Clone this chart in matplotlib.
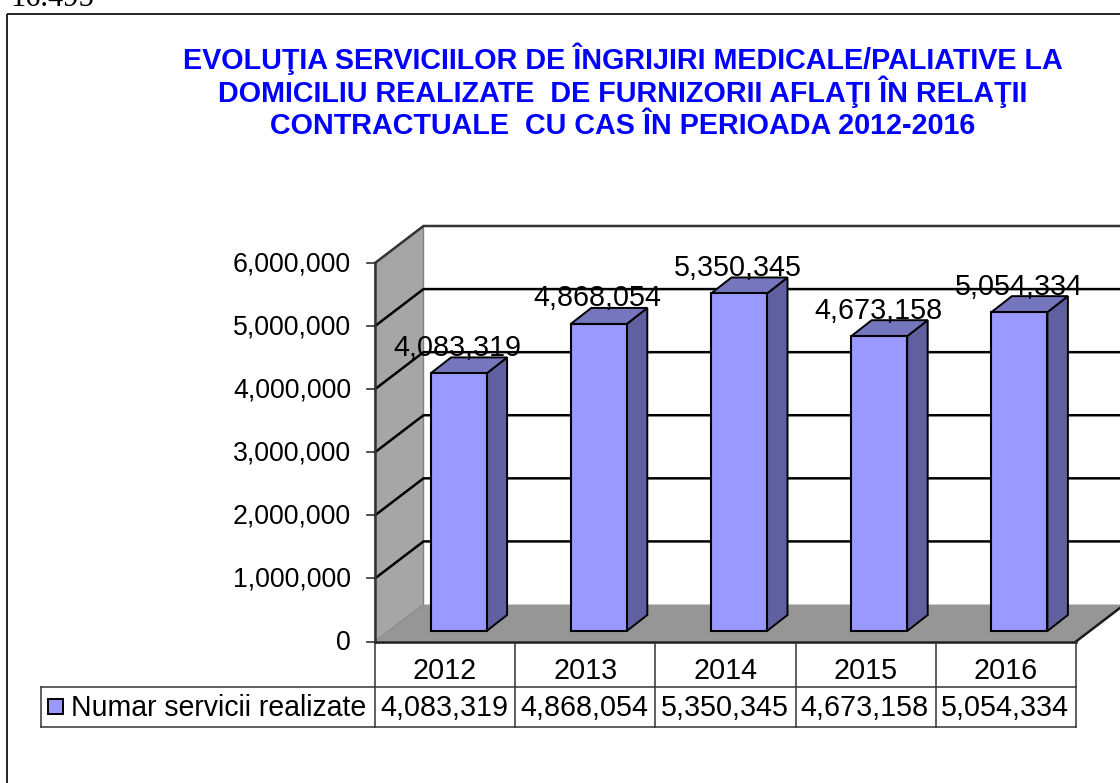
import matplotlib
matplotlib.use("Agg")
import matplotlib.pyplot as plt
from matplotlib.patches import Polygon, Rectangle
from matplotlib.transforms import Affine2D

plt.rcParams['font.family'] = ['Liberation Sans', 'DejaVu Sans']

years = ['2012', '2013', '2014', '2015', '2016']
servicii = [4083319, 4868054, 5350345, 4673158, 5054334]
y_ticks = [0, 1000000, 2000000, 3000000, 4000000, 5000000, 6000000]
serie = 'Numar servicii realizate'
titlu = ['EVOLUŢIA SERVICIILOR DE ÎNGRIJIRI MEDICALE/PALIATIVE LA',
         'DOMICILIU REALIZATE  DE FURNIZORII AFLAŢI ÎN RELAŢII',
         'CONTRACTUALE  CU CAS ÎN PERIOADA 2012-2016']

W, H = 1120, 783
fig = plt.figure(figsize=(W / 100, H / 100), dpi=100)

# page coordinates in pixels, y going down
page = Affine2D().scale(1, -1).translate(0, H)

# the front plane of the 3d box is the real axes
L, R, Y0, Y6 = 375, 1076, 641.5, 263
ax = fig.add_axes([L / W, 1 - Y0 / H, (R - L) / W, (Y0 - Y6) / H])
ax.set_xlim(0, 5)
ax.set_ylim(0, 6000000)
ax.axis('off')

# depth of box and bars, in axes units
sx = 5 / (R - L)
sy = 6000000 / (Y0 - Y6)
depth_x, depth_y = 48.5 * sx, 37 * sy
front_x, front_y = 13.5 * sx, 10.5 * sy
bar_dx, bar_dy = 20.5 * sx, 16 * sy
bar_w = 56 * sx

dark = '#1a1a1a'
fs_tick = 19.3
fs_text = 20.7

# left wall and floor, the back wall stays white
ax.add_patch(Polygon([(0, 0), (depth_x, depth_y), (depth_x, 6000000 + depth_y), (0, 6000000)],
                     closed=True, fc='#a6a6a6', ec='#808080', lw=1, zorder=1, clip_on=False))
ax.add_patch(Polygon([(0, 0), (5, 0), (5 + depth_x, depth_y), (depth_x, depth_y)],
                     closed=True, fc='#969696', ec='none', zorder=1.5, clip_on=False))
ax.plot([5, 5 + depth_x], [0, depth_y], color=dark, lw=1.8, zorder=1.6, clip_on=False)

# gridlines run across the left wall and then along the back wall
for t in y_ticks[1:]:
    col = '#333333' if t == 6000000 else 'black'
    ax.plot([0, depth_x, 5 + depth_x], [t, t + depth_y, t + depth_y],
            color=col, lw=1.8, zorder=1.2, clip_on=False, solid_joinstyle='miter')

# axis lines and tick marks
ax.plot([0, 0], [0, 6000000], color='#333333', lw=1.8, zorder=2, clip_on=False)
ax.plot([0, 5], [0, 0], color=dark, lw=1.8, zorder=2, clip_on=False)
for t in y_ticks:
    ax.plot([-8 * sx, 0], [t, t], color='#333333', lw=1.2, zorder=2, clip_on=False)
    ax.text(-24 * sx, t + 1.5 * sy, f'{t:,}', ha='right', va='center_baseline', fontsize=fs_tick,
            color='black', zorder=6, clip_on=False)

# bars
xpos = [i + 0.5 + front_x for i in range(len(years))]
ax.bar(xpos, servicii, width=bar_w, bottom=front_y, color='#9999ff', edgecolor='black',
       linewidth=1.5, zorder=4)
for x, v in zip(xpos, servicii):
    x1 = x + bar_w / 2
    x0 = x - bar_w / 2
    top = v + front_y
    ax.add_patch(Polygon([(x1, front_y), (x1 + bar_dx, front_y + bar_dy),
                          (x1 + bar_dx, top + bar_dy), (x1, top)],
                         closed=True, fc='#6060a0', ec='black', lw=1.4, zorder=3.5))
    ax.add_patch(Polygon([(x0, top), (x1, top), (x1 + bar_dx, top + bar_dy), (x0 + bar_dx, top + bar_dy)],
                         closed=True, fc='#7676bf', ec='black', lw=1.4, zorder=3.5))
    ax.text(x - 1 * sx, top + 28.5 * sy, f'{v:,}', ha='center', va='center_baseline', fontsize=fs_text,
            color='black', zorder=6)

# data table under the box, hung from the axes categories
cell_h = 45 * sy
row_h = 40.5 * sy
tb = '#333333'
for i in range(len(years) + 1):
    ax.plot([i, i], [0, -(cell_h + row_h)], color=tb, lw=1.1, zorder=2, clip_on=False)
legend_x = (41 - L) * sx
ax.plot([legend_x, 5], [-cell_h, -cell_h], color=tb, lw=1.1, zorder=2, clip_on=False)
ax.plot([legend_x, 5], [-(cell_h + row_h), -(cell_h + row_h)], color=tb, lw=1.1, zorder=2, clip_on=False)
ax.plot([legend_x, legend_x], [-cell_h, -(cell_h + row_h)], color=tb, lw=1.1, zorder=2, clip_on=False)
for i, (y, v) in enumerate(zip(years, servicii)):
    ax.text(i + 0.5, -cell_h / 2 - 4 * sy, y, ha='center', va='center_baseline', fontsize=fs_text, clip_on=False)
    ax.text(i + 0.5 - 1 * sx, -cell_h - row_h / 2 + 1.5 * sy, f'{v:,}', ha='center', va='center_baseline',
            fontsize=fs_text, clip_on=False)
ax.text((71 - L) * sx, -cell_h - row_h / 2 + 1.5 * sy, serie, ha='left', va='center_baseline',
        fontsize=20.55, clip_on=False)
ax.add_patch(Rectangle(((48 - L) * sx, -cell_h - row_h / 2 - 7.5 * sy), 15 * sx, 15 * sy,
                       fc='#9999ff', ec='black', lw=1.4, zorder=3, clip_on=False))

# page furniture: chart border, title, clipped page number above it
fig.add_artist(Rectangle((7, 14), W, H, transform=page, fill=False, ec='black', lw=1.2))
for line, ypx in zip(titlu, [55.5, 88.5, 122.5]):
    fig.text(623 / W, 1 - ypx / H, line, ha='center', va='center_baseline', fontsize=20.7,
             fontweight='bold', color='#0000ff')
fig.text(10 / W, 1 - 6 / H, '16.495', ha='left', va='baseline', fontsize=22,
         family=['Liberation Serif', 'DejaVu Serif'], color='black')

fig.savefig('out.png', dpi=100)
